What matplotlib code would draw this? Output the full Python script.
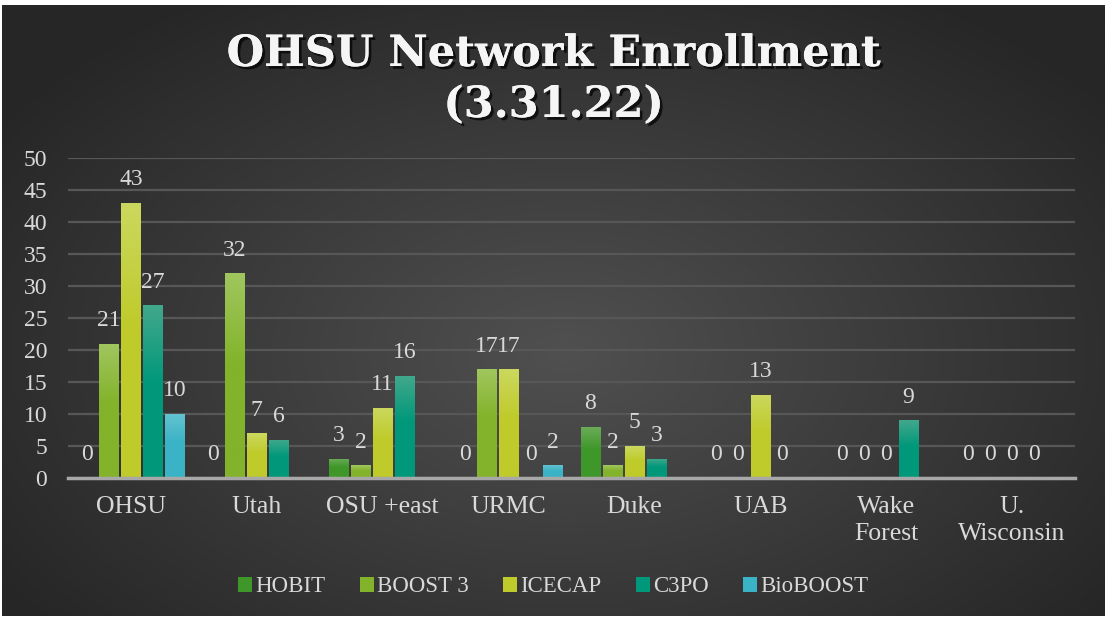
import numpy as np
import matplotlib
matplotlib.use("Agg")
import matplotlib.pyplot as plt
from matplotlib.patches import Patch
import matplotlib.patheffects as pe

# data (None = no bar, no label)
sites = ["OHSU", "Utah", "OSU +east", "URMC", "Duke", "UAB", "Wake\nForest", "U.\nWisconsin"]
hobit = [0, 0, 3, 0, 8, 0, 0, 0]
boost3 = [21, 32, 2, 17, 2, 0, 0, 0]
icecap = [43, 7, 11, 17, 5, 13, 0, 0]
c3po = [27, 6, 16, 0, 3, 0, 9, 0]
bioboost = [10, None, None, 2, None, None, None, None]

series_names = ["HOBIT", "BOOST 3", "ICECAP", "C3PO", "BioBOOST"]
series_vals = [hobit, boost3, icecap, c3po, bioboost]
# (top colour, bottom colour) for the vertical gradient on each bar
series_cols = [("#6cad5a", "#3f972a"),
               ("#a0c65e", "#82b32a"),
               ("#cbd85e", "#bfcb2a"),
               ("#42a88c", "#00987a"),
               ("#62c2d0", "#3ab3c6")]

TXT = "#d9d9d9"
SERIF = ["Liberation Serif", "DejaVu Serif"]

W, H = 1107, 618
fig = plt.figure(figsize=(W / 100, H / 100), dpi=100, facecolor="white")

# dark radial-gradient background panel
bg = fig.add_axes([2 / W, 2 / H, 1103 / W, 611 / H])
bg.set_axis_off()
yy, xx = np.mgrid[0:300, 0:540]
d = np.sqrt(((xx - 275) / 540) ** 2 + ((yy - 170) / 300) ** 2 * 0.8)
d = np.clip(d / 0.62, 0, 1)
c0, c1 = np.array([0x50, 0x50, 0x50]) / 255, np.array([0x26, 0x26, 0x26]) / 255
img = c0[None, None, :] * (1 - d[..., None]) + c1[None, None, :] * d[..., None]
bg.imshow(img, aspect="auto", extent=[0, 1, 0, 1], interpolation="bilinear")
bg.set_xlim(0, 1)
bg.set_ylim(0, 1)

ax = fig.add_axes([68 / W, (H - 478) / H, (1075 - 68) / W, 320 / H])
ax.patch.set_alpha(0)

x = np.arange(len(sites))
slot = 0.175
bw = 0.152

for i, (vals, (ctop, cbot)) in enumerate(zip(series_vals, series_cols)):
    xs = [xi + (i - 2) * slot for xi, v in zip(x, vals) if v is not None]
    hs = [v for v in vals if v is not None]
    bars = ax.bar(xs, hs, width=bw, color=cbot, zorder=3)
    grad = np.linspace(0, 1, 100)
    grad = np.clip(grad / 0.45, 0, 1)[:, None]
    top = np.array(matplotlib.colors.to_rgb(ctop))
    bot = np.array(matplotlib.colors.to_rgb(cbot))
    gimg = top[None, None, :] * (1 - grad[..., None]) + bot[None, None, :] * grad[..., None]
    for b in bars:
        if b.get_height() <= 0:
            continue
        bx, by = b.get_x(), b.get_y()
        im = ax.imshow(gimg, extent=[bx, bx + b.get_width(), by, by + b.get_height()],
                       aspect="auto", zorder=3.5, interpolation="bilinear")
        im.set_clip_path(b)
    for xv, hv in zip(xs, hs):
        ax.annotate(f"{hv}", (xv, hv), xytext=(0, 9), textcoords="offset points",
                    ha="center", va="bottom", color=TXT, fontsize=17, family=SERIF,
                    zorder=5)

ax.set_xlim(-0.5, len(sites) - 0.5)
ax.set_ylim(0, 50)
ax.set_yticks(range(0, 51, 5))
ax.set_xticks(x)
ax.set_xticklabels(sites, linespacing=1.3)
ax.grid(axis="y", color="#575757", lw=1.6, zorder=0)
for s in ["top", "right", "left"]:
    ax.spines[s].set_visible(False)
ax.spines["bottom"].set_color("#a8a8a8")
ax.spines["bottom"].set_linewidth(2.5)
ax.spines["bottom"].set_zorder(4)
ax.tick_params(axis="both", length=0, colors=TXT)
ax.tick_params(axis="x", pad=13, labelsize=18.5)
ax.tick_params(axis="y", pad=15, labelsize=17)
for lab in ax.get_xticklabels() + ax.get_yticklabels():
    lab.set_family(SERIF)

shadow = [pe.withSimplePatchShadow(offset=(2, -2), shadow_rgbFace="black", alpha=0.7),
          pe.Normal()]
fig.text(0.5, 1 - 54 / H, "OHSU Network Enrollment", ha="center", va="center",
         fontsize=31, fontweight="bold", color="#f5f5f5", family=["DejaVu Serif"],
         path_effects=shadow)
fig.text(0.5, 1 - 105 / H, "(3.31.22)", ha="center", va="center",
         fontsize=31, fontweight="bold", color="#f5f5f5", family=["DejaVu Serif"],
         path_effects=shadow)

handles = [Patch(facecolor=c[1], edgecolor="none") for c in series_cols]
leg = fig.legend(handles, series_names, loc="center", bbox_to_anchor=(0.5, 1 - 587 / H),
                 ncol=5, frameon=False, handlelength=0.6, handleheight=0.6,
                 handletextpad=0.15, columnspacing=1.5,
                 prop={"family": SERIF, "size": 16.5})
for t in leg.get_texts():
    t.set_color(TXT)

fig.savefig("out.png", dpi=100, facecolor="white")
